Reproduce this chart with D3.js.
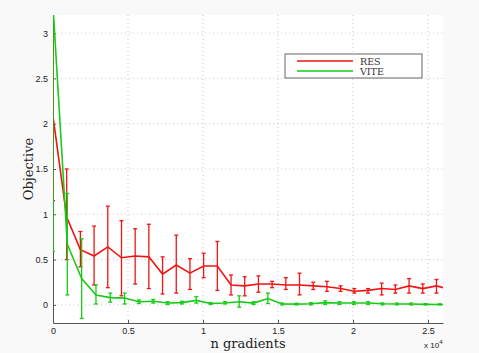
<!DOCTYPE html>
<html>
<head>
<meta charset="utf-8">
<script src="https://cdn.jsdelivr.net/npm/d3@7"></script>
<style>
  html, body { margin: 0; padding: 0; background: #f9f9f9; }
  svg { display: block; }
</style>
</head>
<body>
<script>
// step (n gradients) between recorded points
const resStep = 913;
const viteStep = 955;

const resValues = [2.08, 0.97, 0.61, 0.54, 0.64, 0.52, 0.54, 0.53, 0.34, 0.44, 0.35, 0.43, 0.43, 0.22, 0.21,
  0.23, 0.23, 0.22, 0.22, 0.21, 0.20, 0.18, 0.15, 0.16, 0.18, 0.17, 0.21, 0.18, 0.21, 0.17];
const resLow = [1.15, 0.50, 0.42, 0.22, 0.19, 0.10, 0.23, 0.18, 0.12, 0.13, 0.17, 0.30, 0.16, 0.11, 0.10,
  0.14, 0.19, 0.17, 0.11, 0.17, 0.15, 0.15, 0.13, 0.13, 0.11, 0.13, 0.13, 0.13, 0.13, 0.12];
const resHigh = [3.00, 1.50, 0.81, 0.87, 1.09, 0.93, 0.84, 0.89, 0.53, 0.77, 0.51, 0.57, 0.70, 0.33, 0.31,
  0.32, 0.26, 0.30, 0.35, 0.25, 0.26, 0.21, 0.18, 0.18, 0.24, 0.22, 0.29, 0.23, 0.28, 0.22];

const viteValues = [3.3, 0.67, 0.29, 0.11, 0.08, 0.075, 0.035, 0.04, 0.02, 0.025, 0.05, 0.015, 0.02, 0.035, 0.02,
  0.07, 0.01, 0.008, 0.012, 0.025, 0.02, 0.02, 0.02, 0.012, 0.01, 0.01, 0.006, 0.005, 0.004];
const viteLow = [0.59, 0.11, -0.15, 0.01, 0.03, 0.01, 0.015, 0.02, 0.005, 0.01, 0.02, 0.005, 0.01, -0.025, 0.005,
  0.015, 0.0, 0.0, 0.0, 0.005, 0.005, 0.005, 0.005, 0.0, 0.0, 0.0, 0.0, 0.0, 0.0];
const viteHigh = [6.0, 1.23, 0.73, 0.22, 0.13, 0.13, 0.055, 0.06, 0.035, 0.04, 0.09, 0.025, 0.035, 0.10, 0.035,
  0.13, 0.02, 0.018, 0.025, 0.045, 0.035, 0.035, 0.035, 0.022, 0.02, 0.02, 0.014, 0.012, 0.01];

const xTicks = [0, 5000, 10000, 15000, 20000, 25000];
const xTickLabels = ["0", "0.5", "1", "1.5", "2", "2.5"];
const yTicks = [0, 0.5, 1, 1.5, 2, 2.5, 3];
const yTickLabels = ["0", "0.5", "1", "1.5", "2", "2.5", "3"];

const seriesNames = ["RES", "VITE"];
const seriesColors = ["#f01414", "#16cc16"];

const W = 479, H = 353;
const margin = { top: 15, right: 36, bottom: 30, left: 53 };
const width = W - margin.left - margin.right;
const height = H - margin.top - margin.bottom;

const x = d3.scaleLinear().domain([0, 26000]).range([0, width]);
const y = d3.scaleLinear().domain([-0.2, 3.2]).range([height, 0]);

const svg = d3.select("body").append("svg")
  .attr("width", W)
  .attr("height", H);

svg.append("defs").append("clipPath").attr("id", "clip")
  .append("rect").attr("width", width).attr("height", height);

const g = svg.append("g")
  .attr("transform", "translate(" + margin.left + "," + margin.top + ")");

g.append("rect").attr("width", width).attr("height", height).attr("fill", "#fff");

// grid
g.append("g").selectAll("line").data(xTicks.slice(1)).enter().append("line")
  .attr("x1", d => x(d)).attr("x2", d => x(d))
  .attr("y1", 0).attr("y2", height)
  .attr("stroke", "#c8c8c8").attr("stroke-dasharray", "1,3");
g.append("g").selectAll("line").data(yTicks).enter().append("line")
  .attr("x1", 0).attr("x2", width)
  .attr("y1", d => y(d)).attr("y2", d => y(d))
  .attr("stroke", "#c8c8c8").attr("stroke-dasharray", "1,3");

// axes
const xAxis = d3.axisBottom(x).tickValues(xTicks).tickFormat((d, i) => xTickLabels[i])
  .tickSizeInner(-3).tickSizeOuter(0).tickPadding(5);
const yAxis = d3.axisLeft(y).tickValues(yTicks).tickFormat((d, i) => yTickLabels[i])
  .tickSizeInner(-3).tickSizeOuter(0).tickPadding(5);

const gx = g.append("g").attr("transform", "translate(0," + height + ")").call(xAxis);
const gy = g.append("g").call(yAxis);
[gx, gy].forEach(a => {
  a.select(".domain").attr("stroke", "#555");
  a.selectAll(".tick line").attr("stroke", "#555");
  a.selectAll("text").attr("fill", "#222")
    .style("font-family", "'Liberation Sans', Arial, sans-serif").style("font-size", "9px");
});

// series
const plot = g.append("g").attr("clip-path", "url(#clip)");

function drawSeries(vals, low, high, step, color) {
  const pts = vals.map((v, i) => ({ x: i * step, v: v, lo: low[i], hi: high[i] }));
  const line = d3.line().x(d => x(d.x)).y(d => y(d.v));
  plot.append("path").datum(pts)
    .attr("d", line).attr("fill", "none")
    .attr("stroke", color).attr("stroke-width", 1.6);
  const eb = plot.append("g").attr("stroke", color).attr("stroke-width", 1.3);
  eb.selectAll(".bar").data(pts).enter().append("line")
    .attr("x1", d => x(d.x)).attr("x2", d => x(d.x))
    .attr("y1", d => y(d.lo)).attr("y2", d => y(d.hi));
  ["lo", "hi"].forEach(k => {
    eb.selectAll(".cap-" + k).data(pts).enter().append("line")
      .attr("x1", d => x(d.x) - 2).attr("x2", d => x(d.x) + 2)
      .attr("y1", d => y(d[k])).attr("y2", d => y(d[k]));
  });
}

drawSeries(resValues, resLow, resHigh, resStep, seriesColors[0]);
drawSeries(viteValues, viteLow, viteHigh, viteStep, seriesColors[1]);

// labels
svg.append("text")
  .attr("x", margin.left + width / 2).attr("y", 348)
  .attr("text-anchor", "middle")
  .style("font-family", "'DejaVu Serif', serif").style("font-size", "13px")
  .attr("fill", "#222")
  .text("n gradients");

svg.append("text")
  .attr("transform", "translate(33,169) rotate(-90)")
  .attr("text-anchor", "middle")
  .style("font-family", "'DejaVu Serif', serif").style("font-size", "13px")
  .attr("fill", "#222")
  .text("Objective");

const exp = svg.append("text")
  .attr("x", 424).attr("y", 348)
  .style("font-family", "'Liberation Sans', Arial, sans-serif").style("font-size", "8px")
  .attr("fill", "#222");
exp.append("tspan").text("x 10");
exp.append("tspan").attr("dy", -4).style("font-size", "6px").text("4");

// legend
const lg = svg.append("g").attr("transform", "translate(285,54)");
lg.append("rect").attr("width", 137).attr("height", 24)
  .attr("fill", "#fff").attr("stroke", "#666").attr("stroke-width", 1);
seriesNames.forEach((name, i) => {
  lg.append("line").attr("x1", 12).attr("x2", 68)
    .attr("y1", 7 + i * 10).attr("y2", 7 + i * 10)
    .attr("stroke", seriesColors[i]).attr("stroke-width", 1.6);
  lg.append("text").attr("x", 75).attr("y", 11 + i * 10)
    .style("font-family", "'DejaVu Serif', serif").style("font-size", "9.5px")
    .attr("fill", "#333")
    .text(name);
});
</script>
</body>
</html>
